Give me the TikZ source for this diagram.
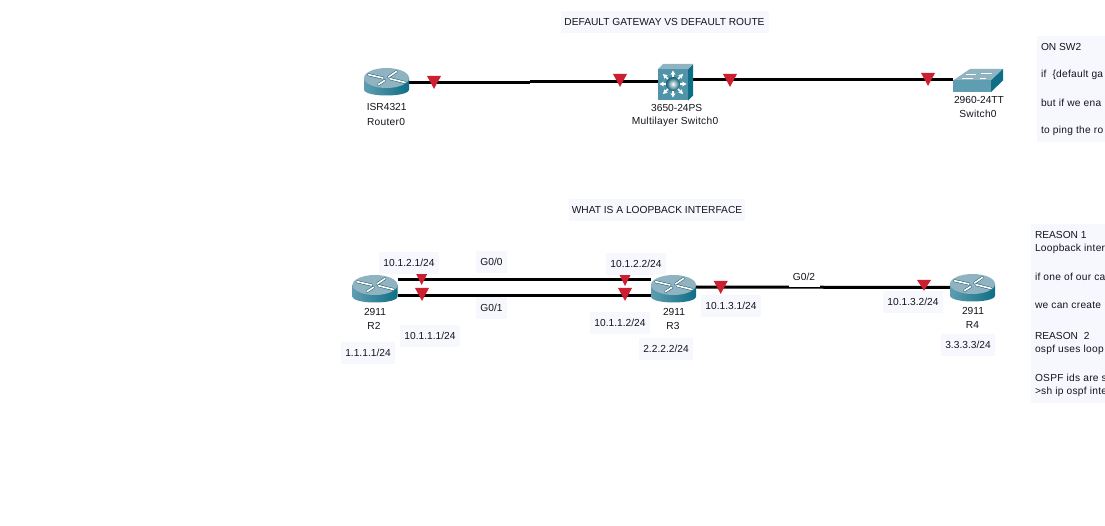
\documentclass[tikz,border=0pt]{standalone}
\usepackage{fontspec}
\setmainfont{Liberation Sans}
\newfontfamily\widefont[LetterSpace=2.6]{Liberation Sans}
\usetikzlibrary{calc,arrows.meta}
\definecolor{notebg}{HTML}{F7F8FD}
\definecolor{portred}{HTML}{CC1F30}
\definecolor{topblue}{HTML}{8FB3C1}
\definecolor{sidedark}{HTML}{0E6E86}
\definecolor{sidemid}{HTML}{DCEAEE}
\definecolor{sideleft}{HTML}{5F9DB0}
\definecolor{txt}{HTML}{14141E}
\tikzset{
  x=1pt,y=-1pt,
  every node/.style={font=\fontsize{10.2}{12}\selectfont,text=txt,inner sep=0pt,outer sep=0pt},
  link/.style={line width=3pt,black},
  lab/.style={anchor=center},
  widelab/.style={anchor=center,font=\fontsize{10.2}{12}\selectfont\widefont},
  notefill/.style={fill=notebg,draw=none},
  boxed/.style={fill=notebg,inner xsep=4.5pt,minimum height=22pt,text height=7.5pt,text depth=0pt},
  notetext/.style={anchor=west},
  widetext/.style={anchor=west,font=\fontsize{10.2}{12}\selectfont\widefont},
  whitearrow/.style={white,line width=1.5pt,-{Stealth[length=4.5pt,width=5pt]}}
}
\newcommand{\portdown}[4]{% x, top, bottom, width
  \fill[portred] (#1-#4/2,#2) -- (#1+#4/2,#2) -- (#1+1,#3-2) -- (#1,#3) -- (#1-1,#3-2) -- cycle;}
\newcommand{\routerat}[1]{%
  \begin{scope}[shift={(#1.center)}]
    \path[left color=sideleft,middle color=sidemid,right color=sidedark]
      (-22.5,-3.5) -- (-22.5,8) .. controls (-22.5,16) and (22.5,16) .. (22.5,8) -- (22.5,-3.5) -- cycle;
    \fill[topblue] (0,-3.5) ellipse [x radius=22.5pt,y radius=10pt];
    \draw[sidedark!70!black,line width=2.6pt,line cap=round]
      (-18,-6.8) -- (-3.5,-3.5) (2,-4.5) -- (10,-10) (3.5,-2.8) -- (18.5,1) (-8,3) -- (-1.7,-1);
    \draw[white,line width=1.7pt,line cap=round]
      (-18,-6.8) -- (-3.5,-3.5) (2,-4.5) -- (10,-10) (3.5,-2.8) -- (18.5,1) (-8,3) -- (-1.7,-1);
  \end{scope}}
\begin{document}
\begin{tikzpicture}
\useasboundingbox (0,0) rectangle (1105,526);
\clip (0,0) rectangle (1105,526);
\fill[white] (0,0) rectangle (1105,526);

% note panels
\fill[notefill] (561,11) rectangle (769,33);
\fill[notefill] (569,199) rectangle (745,221);
\fill[notefill] (1037,36) rectangle (1105,142);
\fill[notefill] (1031,224) rectangle (1105,403);

\node[lab] (title1) at (664.5,22) {DEFAULT GATEWAY VS DEFAULT ROUTE};
\node[lab] (title2) at (657,210) {WHAT IS A LOOPBACK INTERFACE};

% device anchors
\node[minimum width=45pt,minimum height=29pt] (router0) at (386.5,81.5) {};
\node[minimum width=30pt,minimum height=35pt] (ml0) at (675.5,81.5) {};
\node[minimum width=50pt,minimum height=23pt] (sw0) at (978,80.5) {};
\node[minimum width=45pt,minimum height=29pt] (r2) at (375,288.5) {};
\node[minimum width=45pt,minimum height=29pt] (r3) at (673.5,288.5) {};
\node[minimum width=45pt,minimum height=29pt] (r4) at (972.5,287.5) {};

% connectors
\coordinate (bend) at (530,82.4);
\coordinate (bendb) at (530,81.6);
\draw[link] (router0.east |- bend) -- (bend);
\draw[link] (bendb) -- (ml0.west |- bendb);
\draw[link] ([yshift=1.5pt]ml0.east) -- (sw0.west |- 0,80);
\draw[link] ([yshift=8.5pt]r2.east) -- ([yshift=8.5pt]r3.west);
\draw[link] ([yshift=-6.8pt]r2.east) -- ([yshift=-6.8pt]r3.west);
\draw[link] ([yshift=1.5pt]r3.east) -- (r4.west);

% G0/2 label sits over the link
\node[fill=white,minimum width=31pt,minimum height=21pt] (g02box) at (804.5,276.5) {};
\node[lab] (g02) at (804,277) {G0/2};

% devices
\routerat{router0}
\routerat{r2}
\routerat{r3}
\routerat{r4}

% multilayer switch
\begin{scope}[shift={(ml0.center)}]
  \fill[sidedark] (12.5,-12.5) -- (17.5,-17.5) -- (17.5,14) -- (12.5,19) -- cycle;
  \fill[topblue] (-17.5,-12.5) -- (-12.5,-17.5) -- (17.5,-17.5) -- (12.5,-12.5) -- cycle;
  \fill[sideleft!80!sidedark] (-17.5,-12.5) rectangle (12.5,19);
  \draw[whitearrow] (-2.5,2.5) -- ++(-13.5,0);
  \draw[whitearrow] (-2.5,2.5) -- ++(13.5,0);
  \draw[whitearrow] (-2.5,2.5) -- ++(0,-13.5);
  \draw[whitearrow] (-2.5,2.5) -- ++(0,13.5);
  \draw[whitearrow] (-2.5,2.5) -- ++(-10,-10);
  \draw[whitearrow] (-2.5,2.5) -- ++(10,-10);
  \draw[whitearrow] (-2.5,2.5) -- ++(-10,10);
  \draw[whitearrow] (-2.5,2.5) -- ++(10,10);
  \shade[inner color=white,outer color=sidedark!85!black] (-2.5,2.5) circle (7pt);
\end{scope}

% layer 2 switch
\begin{scope}[shift={(sw0.center)}]
  \fill[topblue] (-25,0) -- (-8,-11.5) -- (25,-11.5) -- (13,0) -- cycle;
  \fill[sideleft] (-25,0) rectangle (13,11.5);
  \fill[sidedark] (13,0) -- (25,-11.5) -- (25,0) -- (13,11.5) -- cycle;
  \draw[white,line width=0.8pt] (-12,-6) -- (-2,-6) (3,-7) -- (14,-7) (-16,-2) -- (-5,-2) (2,-2) -- (8,-2);
\end{scope}

% ports
\portdown{434}{76}{89}{14}
\portdown{620}{74}{87}{14}
\portdown{730}{74}{87}{14}
\portdown{928}{73}{86}{14}
\portdown{421.7}{274}{285}{11}
\portdown{422}{288}{301}{14}
\portdown{625}{275}{286}{11}
\portdown{625}{288}{301}{14}
\portdown{720.7}{281}{294}{14}
\portdown{924}{280}{291}{14}

% device labels
\node[lab] (l1) at (386.7,107) {ISR4321};
\node[widelab] (l2) at (386,121.5) {Router0};
\node[lab] (l3) at (676.7,108) {3650-24PS};
\node[widelab] (l4) at (675,122) {Multilayer Switch0};
\node[lab] (l5) at (979,100) {2960-24TT};
\node[widelab] (l6) at (978,114) {Switch0};
\node[lab] (l7) at (375,312) {2911};
\node[lab] (l8) at (374,326) {R2};
\node[lab] (l9) at (674,312) {2911};
\node[lab] (l10) at (673,326) {R3};
\node[lab] (l11) at (973,311) {2911};
\node[lab] (l12) at (972.5,325) {R4};

% address labels
\node[boxed] (a1) at (409,263) {10.1.2.1/24};
\node[boxed] (a2) at (491.5,262) {G0/0};
\node[boxed] (a3) at (636,264) {10.1.2.2/24};
\node[boxed] (a4) at (491.5,308) {G0/1};
\node[boxed] (a5) at (430,336) {10.1.1.1/24};
\node[boxed] (a6) at (368,353) {1.1.1.1/24};
\node[boxed] (a7) at (620,323) {10.1.1.2/24};
\node[boxed] (a8) at (666,349) {2.2.2.2/24};
\node[boxed] (a9) at (731,306) {10.1.3.1/24};
\node[boxed] (a10) at (913,302) {10.1.3.2/24};
\node[boxed] (a11) at (968,345) {3.3.3.3/24};

% note text, cut by the page edge
\node[notetext] (n1) at (1041,47) {ON SW2};
\node[widetext] (n2) at (1041,75) {if\ \ \{default ga};
\node[widetext] (n3) at (1041,103) {but if we ena};
\node[widetext] (n4) at (1041,131) {to ping the ro};
\node[notetext] (m1) at (1035,235) {REASON 1};
\node[widetext] (m2) at (1035,249) {Loopback inter};
\node[widetext] (m3) at (1035,277) {if one of our ca};
\node[widetext] (m4) at (1035,305) {we can create};
\node[notetext] (m5) at (1035,336) {REASON\ \ 2};
\node[widetext] (m6) at (1035,350) {ospf uses loop};
\node[widetext] (m7) at (1035,378) {OSPF ids are s};
\node[widetext] (m8) at (1035,392) {>sh ip ospf inte};
\end{tikzpicture}
\end{document}
